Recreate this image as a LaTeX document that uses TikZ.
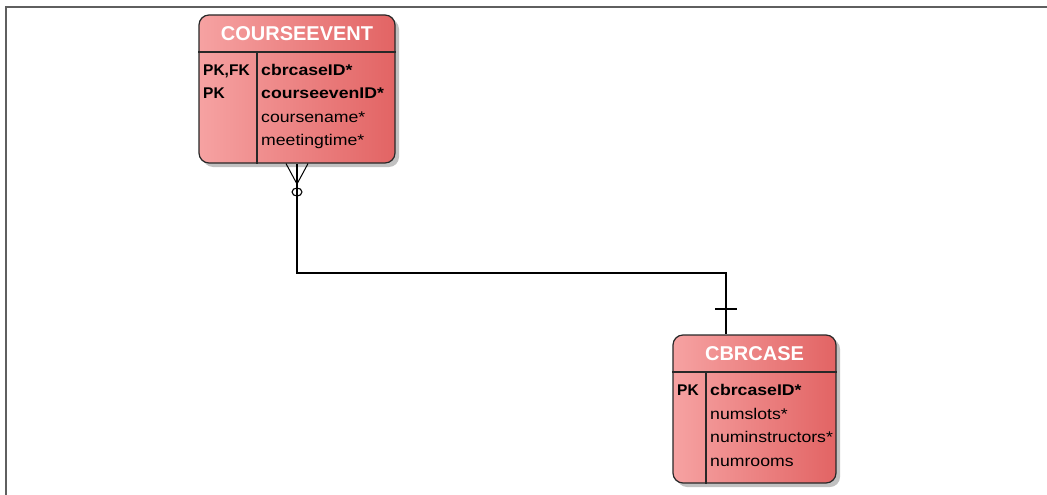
\documentclass[tikz,border=0pt]{standalone}
\usepackage{fontspec}
\setmainfont{Liberation Sans}
\newfontfamily\erfont[FakeStretch=1.14]{Liberation Sans}
\usetikzlibrary{shadows}
\definecolor{entleft}{RGB}{246,162,162}
\definecolor{entright}{RGB}{226,100,100}
\definecolor{entline}{RGB}{40,40,40}
\definecolor{framegray}{RGB}{95,95,95}
\tikzset{
  entity/.style={draw=entline, line width=1.2pt, rounded corners=10pt,
    left color=entleft, right color=entright,
    drop shadow={shadow xshift=4pt, shadow yshift=-4pt, fill=black!30, opacity=0.8},
    inner sep=0pt},
  divider/.style={draw=entline, line width=1.1pt},
  title/.style={font=\fontsize{20}{22}\selectfont\bfseries, text=white, inner sep=0pt},
  attr/.style={font=\erfont\fontsize{15.5}{17}\selectfont, anchor=base west, inner sep=0pt, text=black},
  keyattr/.style={attr, font=\erfont\fontsize{15.5}{17}\selectfont\bfseries},
  keytag/.style={attr, font=\fontsize{15.5}{17}\selectfont\bfseries},
  rel/.style={draw=black, line width=1.2pt},
}
\begin{document}
\begin{tikzpicture}[x=1pt, y=-1pt]
\useasboundingbox (0,0) rectangle (1047,495);
\fill[white] (0,0) rectangle (1047,495);
% page frame
\draw[framegray, line width=1.8pt] (6,495) -- (6,7) -- (1047,7);

% COURSEEVENT entity
\node (ce) [entity, minimum width=196pt, minimum height=148pt] at (297,89) {};
\draw[divider] (ce.west |- 0,52) -- (ce.east |- 0,52);
\draw[divider] (257,52) -- (ce.south -| 257,0);
\node (cet) [title] at (297,34) {COURSEEVENT};
\node (cek1) [keytag] at (203,76) {PK,FK};
\node (cek2) [keytag] at (203,99) {PK};
\node (cea1) [keyattr] at (261,76) {cbrcaseID*};
\node (cea2) [keyattr] at (261,99) {courseevenID*};
\node (cea3) [attr] at (261,122.5) {coursename*};
\node (cea4) [attr] at (261,145.5) {meetingtime*};

% CBRCASE entity
\node (cb) [entity, minimum width=163pt, minimum height=148pt] at (754.5,409) {};
\draw[divider] (cb.west |- 0,372) -- (cb.east |- 0,372);
\draw[divider] (706,372) -- (cb.south -| 706,0);
\node (cbt) [title] at (754.5,354) {CBRCASE};
\node (cbk1) [keytag] at (677,395.5) {PK};
\node (cba1) [keyattr] at (710,395.5) {cbrcaseID*};
\node (cba2) [attr] at (710,419) {numslots*};
\node (cba3) [attr] at (710,442.5) {numinstructors*};
\node (cba4) [attr] at (710,466) {numrooms};

% relationship
\coordinate (bend) at (726,273);
\draw[rel] (ce.south) |- (bend) -- (cb.north -| bend);
% zero-or-many end
\coordinate (crow) at (297,184);
\draw[rel, line width=1pt] (ce.south -| 286,0) -- (crow) -- (ce.south -| 308,0);
\draw[rel, line width=1.1pt] (297,192) ellipse [x radius=5, y radius=4];
% exactly-one end
\draw[rel] (715,309) -- (737,309);
\end{tikzpicture}
\end{document}
